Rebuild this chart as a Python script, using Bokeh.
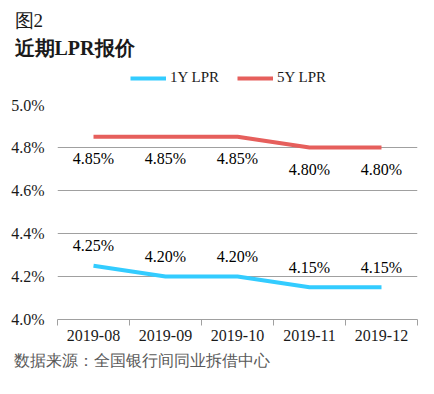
import numpy as np
from bokeh.plotting import figure
from bokeh.layouts import column
from bokeh.models import (ColumnDataSource, FixedTicker, PrintfTickFormatter, Range1d,
                          Legend, LegendItem, Title)
from bokeh.core.properties import value
from bokeh.embed import file_html
from bokeh.resources import INLINE

months = ["2019-08", "2019-09", "2019-10", "2019-11", "2019-12"]
lpr_1y = [4.25, 4.20, 4.20, 4.15, 4.15]
lpr_5y = [4.85, 4.85, 4.85, 4.80, 4.80]
y_ticks = [4.0, 4.2, 4.4, 4.6, 4.8, 5.0]
series_names = ["1Y LPR", "5Y LPR"]
fig_label = "图2"
title_text = "近期LPR报价"
source_text = "数据来源：全国银行间同业拆借中心"

SERIF = "Liberation Serif"
BLUE = "#33CCFF"
RED = "#E65F5C"
DARK = "#1A1A1A"
W = 418


def blank(fig):
    fig.axis.visible = False
    fig.grid.visible = False
    fig.outline_line_color = None
    fig.background_fill_color = "white"
    fig.border_fill_color = "white"
    fig.frame_align = False


# ---------- header: titles + legend ----------
head = figure(width=W, height=96, output_backend="svg", toolbar_location=None,
              x_range=Range1d(0, W), y_range=Range1d(96, 0),
              min_border=0, min_border_left=0, min_border_right=0,
              min_border_top=0, min_border_bottom=0)
blank(head)
head.text(x=[14], y=[20], text=[fig_label], text_font=value(SERIF), text_font_size="19px",
          text_color=DARK, text_baseline="middle", text_align="left")
head.text(x=[14], y=[47], text=[title_text], text_font=value(SERIF), text_font_size="20px",
          text_font_style="bold", text_color=DARK, text_baseline="middle", text_align="left")
h1 = head.line(x=[-50, -40], y=[-50, -50], line_color=BLUE, line_width=4)
h5 = head.line(x=[-50, -40], y=[-50, -50], line_color=RED, line_width=4)
legend = Legend(items=[LegendItem(label=series_names[0], renderers=[h1]),
                       LegendItem(label=series_names[1], renderers=[h5])],
                orientation="horizontal", location=(130, 10),
                label_text_font=SERIF, label_text_font_size="15px",
                label_text_color=DARK, glyph_width=36, glyph_height=16,
                label_height=16, spacing=18, label_standoff=4, border_line_color=None,
                background_fill_alpha=0, padding=0, margin=0)
head.add_layout(legend, "center")

# ---------- main chart ----------
x = np.arange(len(months)) + 0.5
src = ColumnDataSource(dict(
    x=x, y1=lpr_1y, y5=lpr_5y,
    l1=[f"{v:.2f}%" for v in lpr_1y],
    l5=[f"{v:.2f}%" for v in lpr_5y],
))

p = figure(width=W, height=282, output_backend="svg", toolbar_location=None,
           x_range=Range1d(0, len(months)), y_range=Range1d(4.0, 5.0),
           min_border_left=57, min_border_right=1, min_border_top=8, min_border_bottom=59)
p.outline_line_color = None
p.background_fill_color = "white"
p.border_fill_color = "white"
p.frame_align = False

p.line("x", "y1", source=src, line_color=BLUE, line_width=4)
p.line("x", "y5", source=src, line_color=RED, line_width=4)

p.text("x", "y5", text="l5", source=src, text_align="center", text_baseline="middle",
       y_offset=22, text_font=value(SERIF), text_font_size="16px", text_color="#000000")
p.text("x", "y1", text="l1", source=src, text_align="center", text_baseline="middle",
       y_offset=-20, text_font=value(SERIF), text_font_size="16px", text_color="#000000")

p.xaxis.ticker = FixedTicker(ticks=list(x), minor_ticks=list(range(len(months) + 1)))
p.xaxis.major_label_overrides = {float(xx): m for xx, m in zip(x, months)}
p.xaxis.major_tick_line_color = None
p.xaxis.major_tick_in = 0
p.xaxis.major_tick_out = 6
p.xaxis.minor_tick_line_color = "#A0A0A0"
p.xaxis.minor_tick_in = 0
p.xaxis.minor_tick_out = 6
p.xaxis.axis_line_color = "#A0A0A0"
p.xaxis.major_label_text_font = SERIF
p.xaxis.major_label_text_font_size = "16px"
p.xaxis.major_label_text_color = DARK
p.xaxis.major_label_standoff = 4

p.yaxis.ticker = FixedTicker(ticks=y_ticks)
p.yaxis.formatter = PrintfTickFormatter(format="%.1f%%")
p.yaxis.axis_line_color = None
p.yaxis.major_tick_line_color = None
p.yaxis.major_tick_in = 0
p.yaxis.major_tick_out = 0
p.yaxis.minor_tick_line_color = None
p.yaxis.major_label_text_font = SERIF
p.yaxis.major_label_text_font_size = "16px"
p.yaxis.major_label_text_color = DARK
p.yaxis.major_label_standoff = 13

p.xgrid.grid_line_color = None
p.ygrid.ticker = FixedTicker(ticks=y_ticks)
p.ygrid.grid_line_color = "#A0A0A0"
p.ygrid.grid_line_width = 1

# ---------- source note ----------
p.add_layout(Title(text=source_text, text_font=SERIF, text_font_size="16px",
                   text_font_style="normal", text_color="#595959",
                   align="left", offset=-44, standoff=12), "below")

layout = column(head, p, spacing=0)
open("out.html", "w").write(file_html(layout, INLINE))
